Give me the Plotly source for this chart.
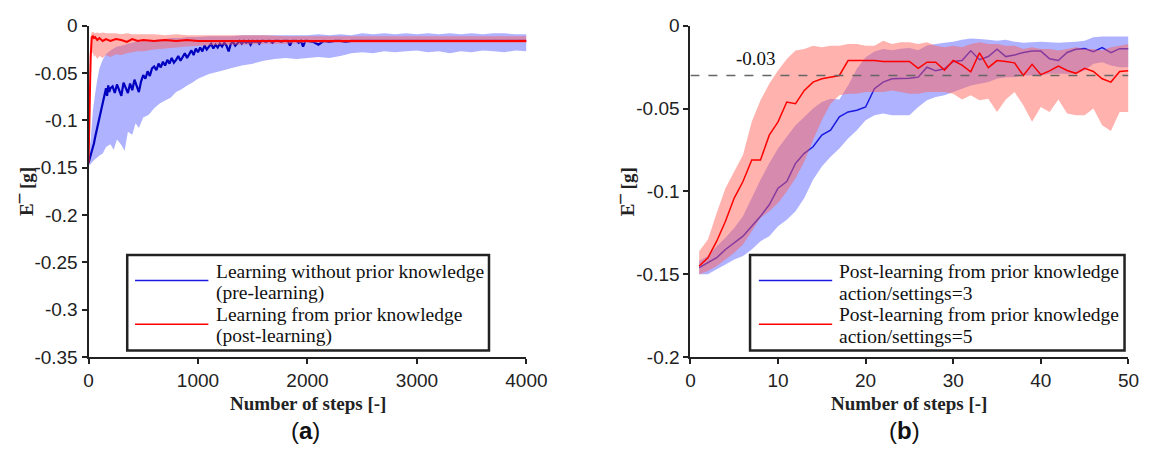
import plotly.graph_objects as go

W, H = 1169, 468

# ---------------- Panel (a) data ----------------
left_pre_steps = list(range(0, 201, 10)) + list(range(220, 2001, 20)) + list(range(2050, 4001, 50))
left_pre_mean = [
    -0.145, -0.141, -0.137, -0.133, -0.128, -0.124, -0.118, -0.113, -0.108, -0.103,
    -0.098, -0.092, -0.088, -0.082, -0.077, -0.070, -0.066, -0.074, -0.063, -0.070,
    -0.066,
    -0.064, -0.071, -0.062, -0.069, -0.074, -0.060, -0.066, -0.071, -0.061, -0.068,
    -0.057, -0.064, -0.070, -0.059, -0.052, -0.056, -0.048, -0.053, -0.045, -0.043,
    -0.047, -0.040, -0.044, -0.038, -0.042, -0.036, -0.040, -0.034, -0.039, -0.036,
    -0.032, -0.037, -0.033, -0.029, -0.034, -0.030, -0.026, -0.031, -0.024, -0.028,
    -0.023, -0.027, -0.021, -0.025, -0.022, -0.019, -0.024, -0.020, -0.023, -0.019,
    -0.022, -0.018, -0.021, -0.027, -0.019, -0.017, -0.021, -0.018, -0.016, -0.019,
    -0.016, -0.018, -0.016, -0.020, -0.016, -0.017, -0.016, -0.019, -0.016, -0.016,
    -0.017, -0.016, -0.016, -0.018, -0.016, -0.016, -0.016, -0.017, -0.016, -0.016,
    -0.016, -0.021, -0.016, -0.016, -0.016, -0.018, -0.016, -0.022, -0.016, -0.016,
    -0.017, -0.020, -0.016, -0.017, -0.016, -0.016, -0.017, -0.016, -0.016, -0.016,
    -0.016, -0.0162, -0.016, -0.0158, -0.016, -0.016, -0.0162, -0.016, -0.0158, -0.016,
    -0.016, -0.0162, -0.016, -0.016, -0.0158, -0.016, -0.016, -0.0162, -0.016, -0.016,
    -0.0158, -0.016, -0.016, -0.0162, -0.016, -0.016, -0.0158, -0.016, -0.016, -0.016,
]
left_pre_band_steps = [0, 20, 40, 60, 80, 100, 130, 160, 200, 230, 260, 300, 330, 360, 400,
                       430, 460, 500, 550, 600, 650, 700, 750, 800, 850, 900, 950, 1000,
                       1100, 1200, 1300, 1400, 1500, 1600, 1700, 1800, 1900, 2000, 2100,
                       2200, 2300, 2400, 2500, 2600, 2700, 2800, 2900, 3000, 3100, 3200,
                       3300, 3400, 3500, 3600, 3700, 3800, 3900, 4000]
left_pre_upper = [
    -0.140, -0.120, -0.090, -0.072, -0.057, -0.045, -0.036, -0.030, -0.026, -0.024,
    -0.022, -0.021, -0.020, -0.019, -0.018, -0.017, -0.017, -0.016, -0.015, -0.015,
    -0.014, -0.014, -0.013, -0.013, -0.013, -0.012, -0.012, -0.012, -0.011, -0.011,
    -0.011, -0.010, -0.010, -0.010, -0.010, -0.010, -0.010, -0.010, -0.009, -0.010,
    -0.009, -0.010, -0.008, -0.009, -0.008, -0.009, -0.008, -0.009, -0.008, -0.009,
    -0.008, -0.009, -0.008, -0.009, -0.008, -0.008, -0.009, -0.009,
]
left_pre_lower = [
    -0.148, -0.146, -0.143, -0.141, -0.139, -0.137, -0.135, -0.128, -0.125, -0.131,
    -0.120, -0.126, -0.132, -0.112, -0.115, -0.103, -0.108, -0.097, -0.094, -0.087,
    -0.082, -0.079, -0.076, -0.070, -0.067, -0.063, -0.060, -0.056, -0.051, -0.048,
    -0.045, -0.042, -0.040, -0.037, -0.035, -0.034, -0.035, -0.034, -0.033, -0.034,
    -0.032, -0.029, -0.028, -0.029, -0.027, -0.028, -0.027, -0.026, -0.028, -0.027,
    -0.029, -0.027, -0.028, -0.026, -0.027, -0.028, -0.026, -0.027,
]
left_post_steps = [0, 5, 10, 15, 20, 25, 30, 40, 50, 60, 80, 100, 130, 160, 200, 250, 300,
                   350, 400, 450, 500, 600, 700, 800, 900, 1000, 1200, 1400, 1600, 1800,
                   2000, 2500, 3000, 3500, 4000]
left_post_mean = [
    -0.145, -0.125, -0.095, -0.060, -0.032, -0.016, -0.012, -0.011, -0.013, -0.012,
    -0.015, -0.013, -0.016, -0.014, -0.016, -0.014, -0.015, -0.017, -0.014, -0.016,
    -0.015, -0.016, -0.015, -0.016, -0.015, -0.016, -0.016, -0.0155, -0.016, -0.016,
    -0.016, -0.016, -0.016, -0.016, -0.016,
]
left_post_upper = [
    -0.140, -0.100, -0.060, -0.030, -0.012, -0.008, -0.007, -0.006, -0.007, -0.008,
    -0.007, -0.008, -0.007, -0.008, -0.008, -0.008, -0.009, -0.008, -0.009, -0.009,
    -0.009, -0.009, -0.010, -0.009, -0.010, -0.010, -0.010, -0.010, -0.010, -0.011,
    -0.011, -0.011, -0.011, -0.011, -0.011,
]
left_post_lower = [
    -0.150, -0.148, -0.140, -0.110, -0.070, -0.040, -0.030, -0.028, -0.033, -0.031,
    -0.035, -0.032, -0.034, -0.031, -0.033, -0.030, -0.031, -0.029, -0.028, -0.027,
    -0.027, -0.025, -0.024, -0.023, -0.022, -0.021, -0.020, -0.020, -0.019, -0.019,
    -0.018, -0.018, -0.018, -0.018, -0.018,
]

# ---------------- Panel (b) data ----------------
right_steps = list(range(1, 51))
right_a3_mean = [
    -0.146, -0.143, -0.140, -0.135, -0.131, -0.127, -0.121, -0.115, -0.108, -0.098,
    -0.094, -0.083, -0.077, -0.073, -0.066, -0.063, -0.055, -0.052, -0.051, -0.049,
    -0.038, -0.034, -0.032, -0.032, -0.0316, -0.031, -0.025, -0.0272, -0.026, -0.0215,
    -0.021, -0.0151, -0.0205, -0.0186, -0.0142, -0.0186, -0.0176, -0.0161, -0.0153, -0.0153,
    -0.0199, -0.021, -0.0161, -0.0142, -0.0138, -0.0157, -0.0132, -0.0163, -0.0138, -0.0138,
]
right_a3_upper = [
    -0.142, -0.139, -0.133, -0.128, -0.122, -0.115, -0.104, -0.093, -0.083, -0.074,
    -0.067, -0.060, -0.055, -0.050, -0.046, -0.044, -0.0445, -0.036, -0.026, -0.019,
    -0.0155, -0.014, -0.0148, -0.0138, -0.0134, -0.0148, -0.0119, -0.011, -0.0103, -0.0096,
    -0.0084, -0.0077, -0.008, -0.0084, -0.009, -0.0084, -0.0096, -0.0103, -0.0099, -0.0096,
    -0.0099, -0.0103, -0.0099, -0.0096, -0.009, -0.007, -0.0065, -0.0065, -0.0065, -0.0065,
]
right_a3_lower = [
    -0.150, -0.150, -0.147, -0.144, -0.141, -0.139, -0.135, -0.130, -0.127, -0.121,
    -0.117, -0.112, -0.104, -0.093, -0.085, -0.079, -0.074, -0.068, -0.063, -0.057,
    -0.054, -0.053, -0.054, -0.054, -0.054, -0.049, -0.045, -0.043, -0.042, -0.040,
    -0.038, -0.036, -0.035, -0.034, -0.032, -0.031, -0.031, -0.030, -0.030, -0.030,
    -0.029, -0.029, -0.029, -0.029, -0.027, -0.023, -0.022, -0.024, -0.025, -0.025,
]
right_a5_mean = [
    -0.145, -0.140, -0.130, -0.118, -0.104, -0.094, -0.081, -0.081, -0.066, -0.058,
    -0.046, -0.047, -0.039, -0.034, -0.032, -0.031, -0.030, -0.021, -0.021, -0.021,
    -0.021, -0.0215, -0.0215, -0.0215, -0.0215, -0.0257, -0.022, -0.022, -0.0268, -0.021,
    -0.0238, -0.0278, -0.0163, -0.0253, -0.021, -0.0215, -0.0224, -0.030, -0.0233, -0.0295,
    -0.0272, -0.0244, -0.027, -0.0287, -0.0257, -0.0276, -0.032, -0.034, -0.0276, -0.0272,
]
right_a5_upper = [
    -0.136, -0.129, -0.113, -0.098, -0.088, -0.078, -0.058, -0.045, -0.035, -0.027,
    -0.020, -0.015, -0.014, -0.012, -0.013, -0.012, -0.012, -0.011, -0.011, -0.012,
    -0.012, -0.009, -0.011, -0.010, -0.010, -0.011, -0.010, -0.012, -0.013, -0.012,
    -0.013, -0.011, -0.010, -0.011, -0.011, -0.012, -0.012, -0.014, -0.013, -0.014,
    -0.014, -0.015, -0.014, -0.013, -0.014, -0.014, -0.015, -0.013, -0.012, -0.011,
]
right_a5_lower = [
    -0.150, -0.148, -0.145, -0.141, -0.137, -0.132, -0.124, -0.116, -0.112, -0.107,
    -0.100, -0.092, -0.082, -0.069, -0.057, -0.047, -0.042, -0.041, -0.041, -0.040,
    -0.040, -0.040, -0.039, -0.040, -0.041, -0.041, -0.040, -0.040, -0.040, -0.041,
    -0.0445, -0.042, -0.045, -0.044, -0.052, -0.0445, -0.040, -0.048, -0.058, -0.049,
    -0.052, -0.0445, -0.053, -0.054, -0.054, -0.050, -0.060, -0.0635, -0.052, -0.052,
]
threshold = -0.03
threshold_label = "-0.03"

# ---------------- Axis ticks / labels ----------------
left_x_ticks = [0, 1000, 2000, 3000, 4000]
left_y_ticks = [0, -0.05, -0.1, -0.15, -0.2, -0.25, -0.3, -0.35]
left_y_labels = ["0", "-0.05", "-0.1", "-0.15", "-0.2", "-0.25", "-0.3", "-0.35"]
right_x_ticks = [0, 10, 20, 30, 40, 50]
right_y_ticks = [0, -0.05, -0.1, -0.15, -0.2]
right_y_labels = ["0", "-0.05", "-0.1", "-0.15", "-0.2"]
x_title = "Number of steps [-]"
y_title = "E\u00af [g]"
left_legend = [("Learning without prior knowledge", "(pre-learning)"),
               ("Learning from prior knowledge", "(post-learning)")]
right_legend = [("Post-learning from prior knowledge", "action/settings=3"),
                ("Post-learning from prior knowledge", "action/settings=5")]
panel_labels = ["(<b>a</b>)", "(<b>b</b>)"]

BLUE_LINE = "#0000c0"
BLUE_LINE_R = "#1a1ae0"
RED_LINE = "#ff0000"
BLUE_FILL = "rgba(85,95,255,0.48)"
RED_FILL = "rgba(255,95,85,0.48)"
AX = "#222222"
SANS = "Liberation Sans, Arial, sans-serif"
SERIF = "Liberation Serif, Times New Roman, serif"


def px(x):
    return x / W


def py(y):
    return 1 - y / H


def band(xs, lo, hi, fill, xa, ya):
    return go.Scatter(x=list(xs) + list(xs)[::-1], y=list(hi) + list(lo)[::-1],
                      fill="toself", fillcolor=fill, mode="none", line=dict(width=0),
                      hoverinfo="skip", showlegend=False, xaxis=xa, yaxis=ya)


fig = go.Figure()
# panel (a)
fig.add_trace(band(left_pre_band_steps, left_pre_lower, left_pre_upper, BLUE_FILL, "x", "y"))
fig.add_trace(go.Scatter(x=left_pre_steps, y=left_pre_mean, mode="lines",
                         line=dict(color=BLUE_LINE, width=2.2), showlegend=False, xaxis="x", yaxis="y"))
fig.add_trace(band(left_post_steps, left_post_lower, left_post_upper, RED_FILL, "x", "y"))
fig.add_trace(go.Scatter(x=left_post_steps, y=left_post_mean, mode="lines",
                         line=dict(color=RED_LINE, width=2), showlegend=False, xaxis="x", yaxis="y"))
# panel (b)
fig.add_trace(band(right_steps, right_a3_lower, right_a3_upper, BLUE_FILL, "x2", "y2"))
fig.add_trace(go.Scatter(x=right_steps, y=right_a3_mean, mode="lines",
                         line=dict(color=BLUE_LINE_R, width=1.5), showlegend=False, xaxis="x2", yaxis="y2"))
fig.add_trace(band(right_steps, right_a5_lower, right_a5_upper, RED_FILL, "x2", "y2"))
fig.add_trace(go.Scatter(x=right_steps, y=right_a5_mean, mode="lines",
                         line=dict(color=RED_LINE, width=1.5), showlegend=False, xaxis="x2", yaxis="y2"))

ydom = [py(363.5), py(16.5)]
axis_common = dict(showline=True, linecolor=AX, linewidth=2, ticks="outside", ticklen=5,
                   tickwidth=2, tickcolor=AX, showgrid=False, zeroline=False,
                   tickfont=dict(family=SANS, size=19, color="#222"))

fig.update_layout(
    width=W, height=H, margin=dict(l=0, r=0, t=0, b=0),
    paper_bgcolor="white", plot_bgcolor="white", showlegend=False,
    xaxis=dict(domain=[px(85.4), px(533.3)], range=[0, 4000], tickvals=left_x_ticks,
               anchor="y", **axis_common),
    yaxis=dict(domain=ydom, range=[-0.35, 0], tickvals=left_y_ticks, ticktext=left_y_labels,
               anchor="x", **axis_common),
    xaxis2=dict(domain=[px(701), px(1149)], range=[0, 50], tickvals=right_x_ticks,
                anchor="y2", **axis_common),
    yaxis2=dict(domain=ydom, range=[-0.2, 0], tickvals=right_y_ticks, ticktext=right_y_labels,
                anchor="x2", **axis_common),
)

shapes = []
annotations = []
# threshold line
shapes.append(dict(type="line", xref="x2", yref="y2", x0=0, x1=50, y0=threshold, y1=threshold,
                   line=dict(color="#666666", width=1.6, dash="dash"), layer="above"))
annotations.append(dict(xref="x2", yref="y2", x=7.5, y=threshold, yshift=17, text=threshold_label,
                        xanchor="center", yanchor="middle",
                        showarrow=False, font=dict(family=SERIF, size=19, color="#111")))

# axis titles
for cx in (309.4, 925):
    annotations.append(dict(xref="paper", yref="paper", x=px(cx), y=py(412), text="<b>%s</b>" % x_title,
                            xanchor="center", yanchor="middle",
                            showarrow=False, font=dict(family=SERIF, size=19, color="#222")))
for cx in (22, 637):
    annotations.append(dict(xref="paper", yref="paper", x=px(cx), y=py(190), text="<b>%s</b>" % y_title,
                            xanchor="center", yanchor="middle",
                            textangle=-90, showarrow=False, font=dict(family=SERIF, size=19, color="#222")))
# panel labels
for cx, lab in zip((307, 920), panel_labels):
    annotations.append(dict(xref="paper", yref="paper", x=px(cx), y=py(440), text=lab,
                            xanchor="center", yanchor="middle",
                            showarrow=False, font=dict(family=SANS, size=24, color="#111")))

# legends (manual boxes)
LINE_OFFSETS = [16.8, 40.2, 62.8, 85.2]
SAMPLE_OFFSETS = [26.8, 72.5]


def add_legend(x0, x1, y0, y1, line_x0, line_x1, text_x, entries, colors):
    shapes.append(dict(type="rect", xref="paper", yref="paper", x0=px(x0), x1=px(x1),
                       y0=py(y1), y1=py(y0), line=dict(color="#222", width=2.5),
                       fillcolor="white", layer="above"))
    k = 0
    for i, (lines, col) in enumerate(zip(entries, colors)):
        ly = y0 + SAMPLE_OFFSETS[i]
        shapes.append(dict(type="line", xref="paper", yref="paper", x0=px(line_x0), x1=px(line_x1),
                           y0=py(ly), y1=py(ly), line=dict(color=col, width=1.5), layer="above"))
        for txt in lines:
            annotations.append(dict(xref="paper", yref="paper", x=px(text_x), y=py(y0 + LINE_OFFSETS[k]),
                                    xanchor="left", yanchor="middle", align="left", text=txt,
                                    showarrow=False, font=dict(family=SERIF, size=19.5, color="#111")))
            k += 1


add_legend(125, 495, 256.5, 356.5, 133, 208, 214, left_legend, [BLUE_LINE_R, RED_LINE])
add_legend(762, 1145, 256.5, 356.5, 771, 846, 851, right_legend, [BLUE_LINE_R, RED_LINE])

fig.update_layout(shapes=shapes, annotations=annotations)
fig.write_html("out.html", post_script="document.body.style.margin='0';document.body.style.overflow='hidden';")
